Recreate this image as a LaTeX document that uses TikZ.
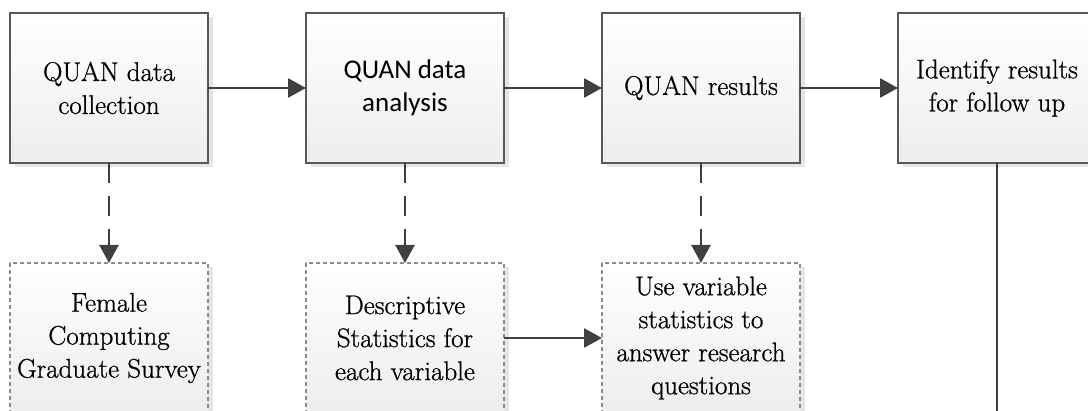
\documentclass[tikz,border=0pt]{standalone}
\usepackage{fontspec}
\setmainfont{Latin Modern Roman}[FakeBold=0.8]
\newfontfamily\calibrifont{Carlito}
\usetikzlibrary{positioning,arrows.meta,shadows}

\begin{document}
\begin{tikzpicture}[x=1pt, y=1pt,
    font=\rmfamily\fontsize{27}{33}\selectfont, text=black,
    stage/.style={draw=black!65, line width=1.2pt, top color=white, bottom color=black!7,
      minimum width=198pt, minimum height=150pt, inner sep=2pt, outer sep=0pt, align=center,
      drop shadow={shadow xshift=5pt, shadow yshift=-4pt, fill=black!10, opacity=1}},
    detail/.style={stage, draw=black!45, dash pattern=on 4pt off 3pt},
    flow/.style={draw=black!75, line width=2.6pt, -{Triangle[length=18pt,width=19pt]}},
    link/.style={flow, dash pattern=on 20pt off 13pt}]
  \useasboundingbox (0,0) rectangle (1088,-411);

  \node [stage] (collect) at (109,-88) {QUAN data\\collection};
  \node [stage, right=98pt of collect, font=\calibrifont\fontsize{27}{33}\selectfont] (analyse) {QUAN data\\analysis};
  \node [stage, right=98pt of analyse] (results) {QUAN results};
  \node [stage, right=98pt of results] (follow) {Identify results\\for follow up};

  \node [detail, below=100pt of collect] (survey) {Female\\Computing\\Graduate Survey};
  \node [detail, below=100pt of analyse] (stats) {Descriptive\\Statistics for\\each variable};
  \node [detail, below=100pt of results] (answer) {Use variable\\statistics to\\answer research\\questions};
  \coordinate (down) at (follow.south |- 0,-411);

  \draw [flow] (collect) -- (analyse);
  \draw [flow] (analyse) -- (results);
  \draw [flow] (results) -- (follow);
  \draw [link] (collect) -- (survey);
  \draw [link] (analyse) -- (stats);
  \draw [link] (results) -- (answer);
  \draw [flow] (stats) -- (answer);
  \draw [flow, -] (follow) -- (down);
\end{tikzpicture}
\end{document}
